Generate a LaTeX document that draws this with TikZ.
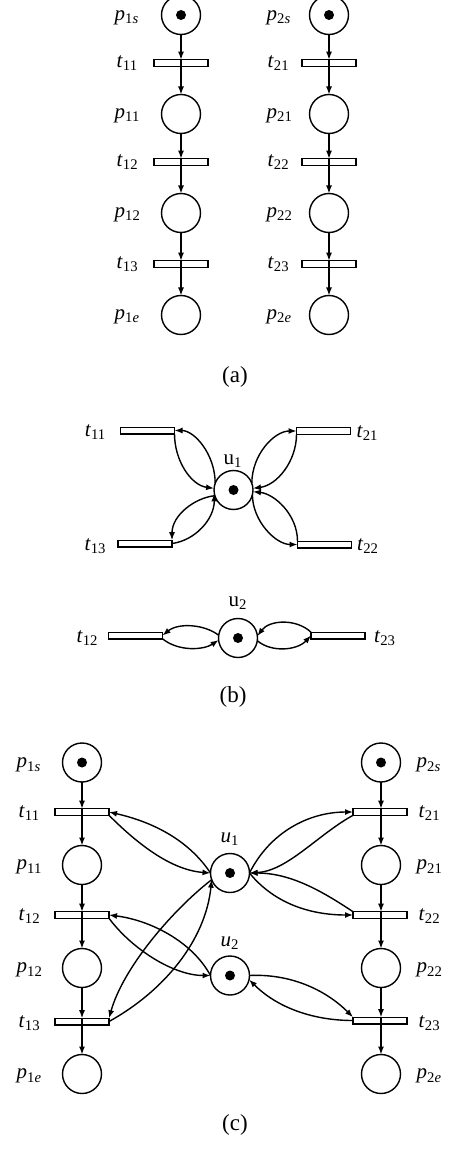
\documentclass[tikz,border=0pt]{standalone}
\usepackage{fontspec}
\setmainfont{Liberation Serif}
\usetikzlibrary{arrows.meta}
\newcommand\lbl[2]{\textit{#1}\textsubscript{#2}}
\begin{document}
\begin{tikzpicture}[x=0.5pt,y=-0.5pt, line width=0.7pt,
 place/.style={circle,draw,minimum size=19.5pt,inner sep=0pt,outer sep=0pt},
 tok/.style={place,path picture={\fill (path picture bounding box.center) circle (2.5pt);}},
 trans/.style={rectangle,draw,minimum width=27pt,minimum height=3.3pt,inner sep=0pt,outer sep=0pt},
 lab/.style={font=\fontsize{10.5}{12}\selectfont,inner sep=0pt},
 captxt/.style={font=\fontsize{11.5}{13}\selectfont,inner sep=0pt},
 arr/.style={-{Latex[length=4pt,width=3pt]}}]
\useasboundingbox (0,0) rectangle (474,1171);

% ---------------- (a) ----------------
\node[tok]   (ap1s) at (181,15) {};
\node[trans] (at11) at (181,63) {};
\node[place] (ap11) at (181,114) {};
\node[trans] (at12) at (181,162) {};
\node[place] (ap12) at (181,213) {};
\node[trans] (at13) at (181,264) {};
\node[place] (ap1e) at (181,315) {};
\node[tok]   (ap2s) at (329,15) {};
\node[trans] (at21) at (329,63) {};
\node[place] (ap21) at (329,114) {};
\node[trans] (at22) at (329,162) {};
\node[place] (ap22) at (329,213) {};
\node[trans] (at23) at (329,264) {};
\node[place] (ap2e) at (329,315) {};

\foreach \a/\b/\c in {ap1s/at11/ap11, ap11/at12/ap12, ap12/at13/ap1e,
                      ap2s/at21/ap21, ap21/at22/ap22, ap22/at23/ap2e}{
  \draw[arr] (\a) -- (\b);
  \draw[arr] (\b.north) -- (\c);
}

\node[lab,anchor=west] (lap1s) at (114,18) {\lbl{p}{1\textit{s}}};
\node[lab,anchor=west] (lat11) at (116,63) {\lbl{t}{11}};
\node[lab,anchor=west] (lap11) at (114,116) {\lbl{p}{11}};
\node[lab,anchor=west] (lat12) at (116,162) {\lbl{t}{12}};
\node[lab,anchor=west] (lap12) at (114,215) {\lbl{p}{12}};
\node[lab,anchor=west] (lat13) at (116,264) {\lbl{t}{13}};
\node[lab,anchor=west] (lap1e) at (114,317) {\lbl{p}{1\textit{e}}};
\node[lab,anchor=west] (lap2s) at (266,18) {\lbl{p}{2\textit{s}}};
\node[lab,anchor=west] (lat21) at (267,63) {\lbl{t}{21}};
\node[lab,anchor=west] (lap21) at (266,116) {\lbl{p}{21}};
\node[lab,anchor=west] (lat22) at (267,162) {\lbl{t}{22}};
\node[lab,anchor=west] (lap22) at (266,215) {\lbl{p}{22}};
\node[lab,anchor=west] (lat23) at (267,264) {\lbl{t}{23}};
\node[lab,anchor=west] (lap2e) at (266,317) {\lbl{p}{2\textit{e}}};
\node[captxt] (capa) at (235,377) {(a)};

% ---------------- (b) ----------------
\node[tok]   (bu1)  at (233.5,490) {};
\node[tok]   (bu2)  at (238,638) {};
\node[trans] (bt11) at (147.5,430.5) {};
\node[trans] (bt13) at (145,543.5) {};
\node[trans] (bt21) at (323.5,431) {};
\node[trans] (bt22) at (324.5,544.5) {};
\node[trans] (bt12) at (135.5,635.5) {};
\node[trans] (bt23) at (338,635.5) {};

\node[lab] (lbu1)  at (233,461) {u\textsubscript{1}};
\node[lab] (lbu2)  at (238,603) {u\textsubscript{2}};
\node[lab] (lbt11) at (95.5,432) {\lbl{t}{11}};
\node[lab] (lbt13) at (95.5,546) {\lbl{t}{13}};
\node[lab] (lbt21) at (367.5,433) {\lbl{t}{21}};
\node[lab] (lbt22) at (368,546) {\lbl{t}{22}};
\node[lab] (lbt12) at (87.5,638) {\lbl{t}{12}};
\node[lab] (lbt23) at (385,638) {\lbl{t}{23}};
\node[captxt] (capb) at (233,697) {(b)};

\draw[arr] (bu1.160) .. controls +(0,-29) and +(20,0) .. (bt11.east);
\draw[arr] (bt11.south east) .. controls +(0,27) and +(-23,-3) .. (bu1.175);
\draw[arr] (bt13.east) .. controls +(23,-3) and +(0,26) .. (bu1.190);
\draw[arr] (bu1.197) .. controls +(-20,2) and +(0,-25) .. (bt13.north east);
\draw[arr] (bu1.20) .. controls +(0,-29) and +(-22,0) .. (bt21.west);
\draw[arr] (bt21.south west) .. controls +(0,27) and +(24,-3) .. (bu1.5);
\draw[arr] (bu1.-14) .. controls +(0,26) and +(-22,0) .. (bt22.west);
\draw[arr] (bt22.north west) .. controls +(0,-27) and +(21,2) .. (bu1.-5);
\draw[arr] (bu2.172) .. controls +(-14,-11) and +(16,-13) .. (bt12.east);
\draw[arr] (bt12.south east) .. controls +(16,13) and +(-15,10) .. (bu2.186);
\draw[arr] (bt23.north west) .. controls +(-15,-14) and +(12,-16) .. (bu2.6);
\draw[arr] (bu2.-8) .. controls +(14,12) and +(-14,15) .. (bt23.west);

% ---------------- (c) ----------------
\node[tok]   (cp1s) at (82,762.5) {};
\node[trans] (ct11) at (82,812) {};
\node[place] (cp11) at (82,865) {};
\node[trans] (ct12) at (82,915) {};
\node[place] (cp12) at (82,968) {};
\node[trans] (ct13) at (82,1021.5) {};
\node[place] (cp1e) at (82,1074) {};
\node[tok]   (cp2s) at (381,762.5) {};
\node[trans] (ct21) at (380,812) {};
\node[place] (cp21) at (381,865) {};
\node[trans] (ct22) at (380,915) {};
\node[place] (cp22) at (381,968) {};
\node[trans] (ct23) at (380,1020.5) {};
\node[place] (cp2e) at (381,1074) {};
\node[tok]   (cu1)  at (230,873) {};
\node[tok]   (cu2)  at (230,975.5) {};

\draw[arr] (cp1s) -- (ct11);
\draw[arr] (ct11.north) -- (cp11);
\draw[arr] (cp11) -- (ct12);
\draw[arr] (ct12.north) -- (cp12);
\draw[arr] (cp12) -- (ct13);
\draw[arr] (ct13.north) -- (cp1e);
\draw[arr] (cp2s) -- (cp2s |- ct21.north);
\draw[arr] (cp2s |- ct21.north) -- (cp21);
\draw[arr] (cp21) -- (cp21 |- ct22.north);
\draw[arr] (cp21 |- ct22.north) -- (cp22);
\draw[arr] (cp22) -- (cp22 |- ct23.north);
\draw[arr] (cp22 |- ct23.north) -- (cp2e);

\node[lab,anchor=west] (lcp1s) at (16,765) {\lbl{p}{1\textit{s}}};
\node[lab,anchor=west] (lct11) at (18,813) {\lbl{t}{11}};
\node[lab,anchor=west] (lcp11) at (16,867) {\lbl{p}{11}};
\node[lab,anchor=west] (lct12) at (18,916) {\lbl{t}{12}};
\node[lab,anchor=west] (lcp12) at (16,970) {\lbl{p}{12}};
\node[lab,anchor=west] (lct13) at (18,1023) {\lbl{t}{13}};
\node[lab,anchor=west] (lcp1e) at (16,1076) {\lbl{p}{1\textit{e}}};
\node[lab,anchor=west] (lcp2s) at (416,765) {\lbl{p}{2\textit{s}}};
\node[lab,anchor=west] (lct21) at (418,813) {\lbl{t}{21}};
\node[lab,anchor=west] (lcp21) at (416,867) {\lbl{p}{21}};
\node[lab,anchor=west] (lct22) at (418,916) {\lbl{t}{22}};
\node[lab,anchor=west] (lcp22) at (416,970) {\lbl{p}{22}};
\node[lab,anchor=west] (lct23) at (418,1023) {\lbl{t}{23}};
\node[lab,anchor=west] (lcp2e) at (416,1076) {\lbl{p}{2\textit{e}}};
\node[lab] (lcu1) at (230,839) {\textit{u}\textsubscript{1}};
\node[lab] (lcu2) at (230,943) {\textit{u}\textsubscript{2}};
\node[captxt] (capc) at (235,1125) {(c)};

\draw[arr] (cu1.west) .. controls +(-22,-33) and +(44,10) .. (ct11.east);
\draw[arr] (ct11.south east) .. controls +(28,28) and +(-40,-3) .. (cu1.west);
\draw[arr] (cu1.east) .. controls +(20,-40) and +(-45,0) .. (ct21.west);
\draw[arr] (ct21.south west) .. controls +(-36,20) and +(38,-2) .. (cu1.east);
\draw[arr] (ct22.north west) .. controls +(-33,-22) and +(40,0) .. (cu1.east);
\draw[arr] (cu1.east) .. controls +(26,32) and +(-40,0) .. (ct22.west);
\draw[arr] (cu2.west) .. controls +(-19,-35) and +(40,5) .. (ct12.east);
\draw[arr] (ct12.south east) .. controls +(24,32) and +(-36,0) .. (cu2.west);
\draw[arr] (cu1.200) .. controls +(-40,31) and +(14,-50) .. (ct13.north east);
\draw[arr] (ct13.east) .. controls +(56,-31) and +(-6,60) .. (cu1.200);
\draw[arr] (cu2.east) .. controls +(40,-2) and +(-28,-28) .. (ct23.north west);
\draw[arr] (ct23.west) .. controls +(-40,0) and +(28,28) .. (cu2.-12);
\end{tikzpicture}
\end{document}
